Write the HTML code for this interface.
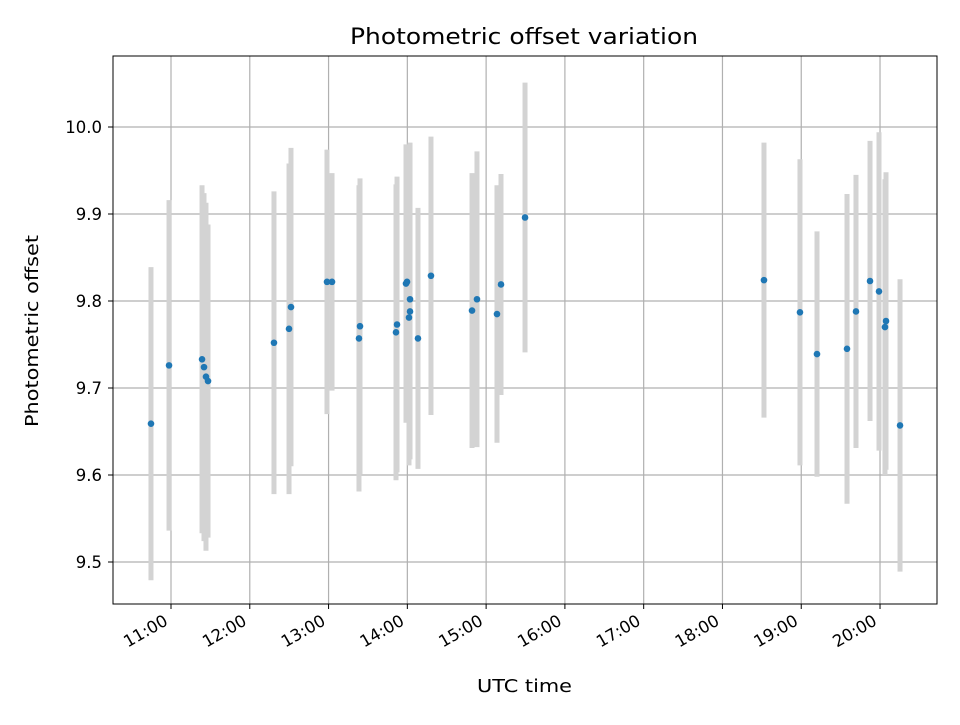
<!DOCTYPE html>
<html><head><meta charset="utf-8"><style>
body{margin:0;background:#fff}
svg text{font-family:"DejaVu Sans","Liberation Sans",sans-serif;fill:#000}
</style></head><body>
<svg id="chart" width="960" height="720" xmlns="http://www.w3.org/2000/svg">
<rect width="960" height="720" fill="#fff"/>
<g id="grid"></g><g id="bars"></g><g id="pts"></g><g id="axes"></g>
<text x="350" y="44" font-size="22" textLength="348" lengthAdjust="spacingAndGlyphs">Photometric offset variation</text>
<text x="477" y="692" font-size="18" textLength="95" lengthAdjust="spacingAndGlyphs">UTC time</text>
<text transform="translate(38,427) rotate(-90)" font-size="18" textLength="192" lengthAdjust="spacingAndGlyphs">Photometric offset</text>
</svg>
<script>
const times=[10.746,10.975,11.394,11.419,11.444,11.470,12.307,12.498,12.523,12.980,13.044,13.386,13.399,13.856,13.869,13.983,13.996,14.034,14.034,14.021,14.135,14.300,14.821,14.884,15.138,15.189,15.494,18.527,18.984,19.200,19.581,19.695,19.873,19.987,20.076,20.063,20.254];
const offsets=[9.659,9.726,9.733,9.724,9.713,9.708,9.752,9.768,9.793,9.822,9.822,9.757,9.771,9.764,9.773,9.820,9.822,9.802,9.788,9.781,9.757,9.829,9.789,9.802,9.785,9.819,9.896,9.824,9.787,9.739,9.745,9.788,9.823,9.811,9.777,9.770,9.657];
const errors=[0.18,0.19,0.20,0.20,0.20,0.18,0.174,0.19,0.183,0.152,0.125,0.176,0.17,0.17,0.17,0.16,0.15,0.18,0.17,0.17,0.15,0.16,0.158,0.17,0.148,0.127,0.155,0.158,0.176,0.141,0.178,0.157,0.161,0.183,0.171,0.17,0.168];
const yTicks=[9.5,9.6,9.7,9.8,9.9,10.0];
const xTicks=[11,12,13,14,15,16,17,18,19,20];
const L=113,R=937,T=56,B=604;
const X=h=>171+(h-11)*78.78;
const Y=v=>127+(10-v)*870;
const NS="http://www.w3.org/2000/svg";
function mk(tag,attrs,parent){const e=document.createElementNS(NS,tag);for(const k in attrs)e.setAttribute(k,attrs[k]);document.getElementById(parent).appendChild(e);return e;}
yTicks.forEach(v=>{
 const g=mk('line',{x1:L,x2:R,y1:Y(v),y2:Y(v),stroke:'#b0b0b0','stroke-width':1.2},'grid');
 
 
 const t=mk('line',{x1:L-5,x2:L,y1:Y(v),y2:Y(v),stroke:'#000','stroke-width':1},'axes');
 
 
 const tx=mk('text',{x:L-11,y:Y(v)+6,'font-size':'16.5','text-anchor':'end'},'axes');
 tx.textContent=v.toFixed(1);
 
 
});
xTicks.forEach(h=>{
 const x=X(h);
 const g=mk('line',{x1:x,x2:x,y1:T,y2:B,stroke:'#b0b0b0','stroke-width':1.2},'grid');
 
 
 const t=mk('line',{x1:x,x2:x,y1:B,y2:B+5,stroke:'#000','stroke-width':1},'axes');
 
 
 const tx=mk('text',{transform:`translate(${x-2},${B+20}) rotate(-30)`,'font-size':'16.5','text-anchor':'end'},'axes');
 tx.textContent=h+':00';
 
 
});
const fr=mk('rect',{x:L,y:T,width:R-L,height:B-T,fill:'none',stroke:'#000','stroke-width':1},'axes');


times.forEach((h,i)=>{
 const x=X(h);
 const b=mk('line',{x1:x,x2:x,y1:Y(offsets[i]+errors[i]),y2:Y(offsets[i]-errors[i]),stroke:'#d3d3d3','stroke-width':5},'bars');
 
 
 const p=mk('circle',{cx:x,cy:Y(offsets[i]),r:3.3,fill:'#1f77b4'},'pts');
 
 
});
</script>
</body></html>
